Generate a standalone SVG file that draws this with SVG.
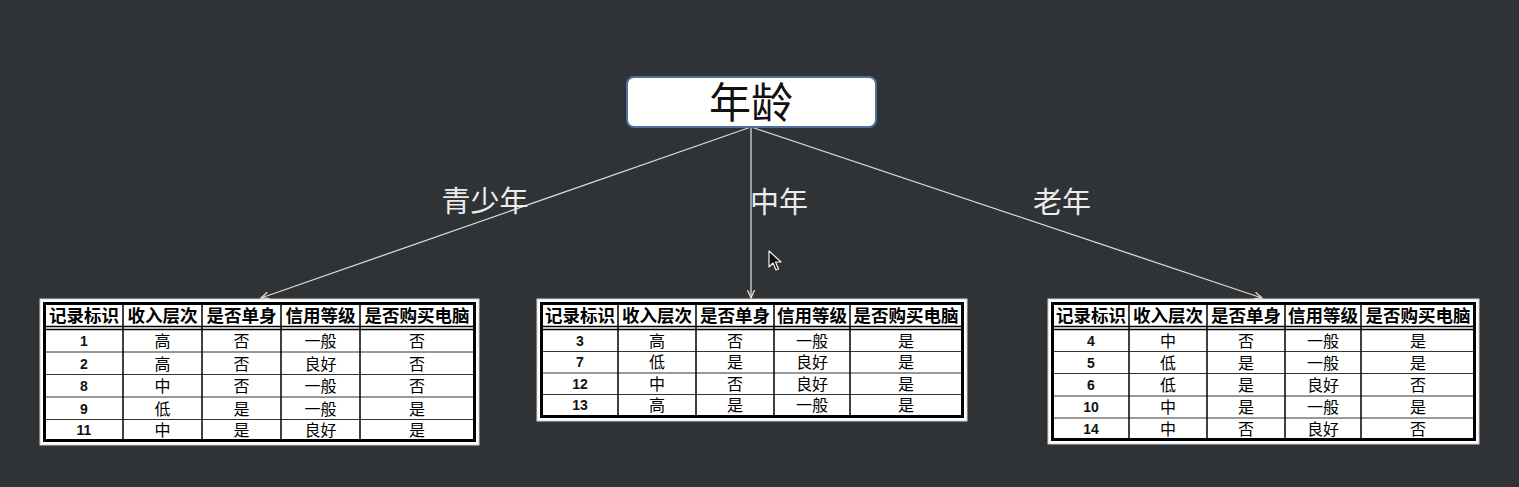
<svg xmlns="http://www.w3.org/2000/svg" width="1519" height="487" viewBox="0 0 1519 487">
<style>
.bg{fill:#303336}
.root{fill:#ffffff;stroke:#4d6f99;stroke-width:2}
.rootT{font-family:"Noto Sans CJK SC","Noto Sans",sans-serif;font-size:42px;fill:#111;text-anchor:middle}
.lbl{font-family:"Noto Sans CJK SC","Noto Sans",sans-serif;font-size:29px;fill:#ececec;text-anchor:middle}
.edge{stroke:#d8d8d8;stroke-width:1.3;fill:none}
.frame{fill:#ffffff;stroke:#d0d0d0;stroke-width:1}
.bord{fill:none;stroke:#000;stroke-width:3}
.vl{stroke:#000;stroke-width:1.5}
.hl{stroke:#333;stroke-width:1}
.dl{stroke:#000;stroke-width:1.5}
.th{font-family:"Noto Sans CJK SC","Noto Sans",sans-serif;font-size:17.5px;font-weight:bold;fill:#000;text-anchor:middle}
.td{font-family:"Noto Sans CJK SC","Noto Sans",sans-serif;font-size:16px;fill:#000;text-anchor:middle}
.tn{font-family:"Liberation Sans",Arial,sans-serif;font-size:14px;font-weight:bold;fill:#111;text-anchor:middle}
</style>
<defs>
<marker id="ah" markerWidth="10" markerHeight="8" refX="8" refY="4" orient="auto" markerUnits="userSpaceOnUse">
<path d="M0,0.5 L8,4 L0,7.5" fill="none" stroke="#e0e0e0" stroke-width="1.3"/>
</marker>
</defs>
<rect class="bg" x="0" y="0" width="1519" height="487"/>

<g id="connectors">
<line class="edge" x1="751" y1="127" x2="261" y2="298" marker-end="url(#ah)"/>
<line class="edge" x1="751" y1="127" x2="751" y2="298" marker-end="url(#ah)"/>
<line class="edge" x1="751" y1="127" x2="1262" y2="298" marker-end="url(#ah)"/>
<text class="lbl" x="485" y="212">青少年</text>
<text class="lbl" x="779" y="213">中年</text>
<text class="lbl" x="1062" y="213">老年</text>
</g>

<g id="root">
<rect class="root" x="627" y="77" width="249" height="50" rx="7"/>
<text class="rootT" x="751" y="118">年龄</text>
</g>

<g id="table-youth">
<rect class="frame" x="40" y="299" width="439" height="146"/>
<rect class="bord" x="44.5" y="303.5" width="430" height="137"/>
<line class="dl" x1="46" y1="326.5" x2="473" y2="326.5"/>
<line class="dl" x1="46" y1="329.5" x2="473" y2="329.5"/>
<line class="hl" x1="46" y1="352" x2="473" y2="352"/>
<line class="hl" x1="46" y1="374.5" x2="473" y2="374.5"/>
<line class="hl" x1="46" y1="397" x2="473" y2="397"/>
<line class="hl" x1="46" y1="419.5" x2="473" y2="419.5"/>
<line class="vl" x1="123" y1="305" x2="123" y2="439"/>
<line class="vl" x1="202" y1="305" x2="202" y2="439"/>
<line class="vl" x1="281" y1="305" x2="281" y2="439"/>
<line class="vl" x1="360" y1="305" x2="360" y2="439"/>
<text class="th" x="84" y="322">记录标识</text>
<text class="th" x="162.5" y="322">收入层次</text>
<text class="th" x="241.5" y="322">是否单身</text>
<text class="th" x="320.5" y="322">信用等级</text>
<text class="th" x="417" y="322">是否购买电脑</text>
<text class="tn" x="84" y="346">1</text><text class="td" x="162.5" y="347">高</text><text class="td" x="241.5" y="347">否</text><text class="td" x="320.5" y="347">一般</text><text class="td" x="417" y="347">否</text>
<text class="tn" x="84" y="368.5">2</text><text class="td" x="162.5" y="369.5">高</text><text class="td" x="241.5" y="369.5">否</text><text class="td" x="320.5" y="369.5">良好</text><text class="td" x="417" y="369.5">否</text>
<text class="tn" x="84" y="391">8</text><text class="td" x="162.5" y="392">中</text><text class="td" x="241.5" y="392">否</text><text class="td" x="320.5" y="392">一般</text><text class="td" x="417" y="392">否</text>
<text class="tn" x="84" y="413.5">9</text><text class="td" x="162.5" y="414.5">低</text><text class="td" x="241.5" y="414.5">是</text><text class="td" x="320.5" y="414.5">一般</text><text class="td" x="417" y="414.5">是</text>
<text class="tn" x="84" y="435">11</text><text class="td" x="162.5" y="436">中</text><text class="td" x="241.5" y="436">是</text><text class="td" x="320.5" y="436">良好</text><text class="td" x="417" y="436">是</text>
</g>

<g id="table-middle">
<rect class="frame" x="537" y="299" width="430" height="122"/>
<rect class="bord" x="541.5" y="303.5" width="421" height="113"/>
<line class="dl" x1="543" y1="326.5" x2="961" y2="326.5"/>
<line class="dl" x1="543" y1="329.5" x2="961" y2="329.5"/>
<line class="hl" x1="543" y1="351.5" x2="961" y2="351.5"/>
<line class="hl" x1="543" y1="373" x2="961" y2="373"/>
<line class="hl" x1="543" y1="394.5" x2="961" y2="394.5"/>
<line class="vl" x1="618" y1="305" x2="618" y2="415"/>
<line class="vl" x1="696" y1="305" x2="696" y2="415"/>
<line class="vl" x1="774" y1="305" x2="774" y2="415"/>
<line class="vl" x1="850" y1="305" x2="850" y2="415"/>
<text class="th" x="580" y="322">记录标识</text>
<text class="th" x="657" y="322">收入层次</text>
<text class="th" x="735" y="322">是否单身</text>
<text class="th" x="812" y="322">信用等级</text>
<text class="th" x="906" y="322">是否购买电脑</text>
<text class="tn" x="580" y="345.5">3</text><text class="td" x="657" y="346.5">高</text><text class="td" x="735" y="346.5">否</text><text class="td" x="812" y="346.5">一般</text><text class="td" x="906" y="346.5">是</text>
<text class="tn" x="580" y="367">7</text><text class="td" x="657" y="368">低</text><text class="td" x="735" y="368">是</text><text class="td" x="812" y="368">良好</text><text class="td" x="906" y="368">是</text>
<text class="tn" x="580" y="388.5">12</text><text class="td" x="657" y="389.5">中</text><text class="td" x="735" y="389.5">否</text><text class="td" x="812" y="389.5">良好</text><text class="td" x="906" y="389.5">是</text>
<text class="tn" x="580" y="410">13</text><text class="td" x="657" y="411">高</text><text class="td" x="735" y="411">是</text><text class="td" x="812" y="411">一般</text><text class="td" x="906" y="411">是</text>
</g>

<g id="table-old">
<rect class="frame" x="1048" y="299" width="431" height="145"/>
<rect class="bord" x="1052.5" y="303.5" width="422" height="136"/>
<line class="dl" x1="1054" y1="326.5" x2="1473" y2="326.5"/>
<line class="dl" x1="1054" y1="329.5" x2="1473" y2="329.5"/>
<line class="hl" x1="1054" y1="351.5" x2="1473" y2="351.5"/>
<line class="hl" x1="1054" y1="373.5" x2="1473" y2="373.5"/>
<line class="hl" x1="1054" y1="396" x2="1473" y2="396"/>
<line class="hl" x1="1054" y1="418" x2="1473" y2="418"/>
<line class="vl" x1="1129" y1="305" x2="1129" y2="438"/>
<line class="vl" x1="1207" y1="305" x2="1207" y2="438"/>
<line class="vl" x1="1285" y1="305" x2="1285" y2="438"/>
<line class="vl" x1="1361" y1="305" x2="1361" y2="438"/>
<text class="th" x="1091" y="322">记录标识</text>
<text class="th" x="1168" y="322">收入层次</text>
<text class="th" x="1246" y="322">是否单身</text>
<text class="th" x="1323" y="322">信用等级</text>
<text class="th" x="1418" y="322">是否购买电脑</text>
<text class="tn" x="1091" y="345.5">4</text><text class="td" x="1168" y="346.5">中</text><text class="td" x="1246" y="346.5">否</text><text class="td" x="1323" y="346.5">一般</text><text class="td" x="1418" y="346.5">是</text>
<text class="tn" x="1091" y="367.5">5</text><text class="td" x="1168" y="368.5">低</text><text class="td" x="1246" y="368.5">是</text><text class="td" x="1323" y="368.5">一般</text><text class="td" x="1418" y="368.5">是</text>
<text class="tn" x="1091" y="390">6</text><text class="td" x="1168" y="391">低</text><text class="td" x="1246" y="391">是</text><text class="td" x="1323" y="391">良好</text><text class="td" x="1418" y="391">否</text>
<text class="tn" x="1091" y="412">10</text><text class="td" x="1168" y="413">中</text><text class="td" x="1246" y="413">是</text><text class="td" x="1323" y="413">一般</text><text class="td" x="1418" y="413">是</text>
<text class="tn" x="1091" y="434">14</text><text class="td" x="1168" y="435">中</text><text class="td" x="1246" y="435">否</text><text class="td" x="1323" y="435">良好</text><text class="td" x="1418" y="435">否</text>
</g>

<path d="M769,251 L769,267 L773,263 L776,270 L778.5,269 L775.5,262 L781,262 Z" fill="#111" stroke="#f0f0f0" stroke-width="1.2" stroke-linejoin="round"/>
</svg>
